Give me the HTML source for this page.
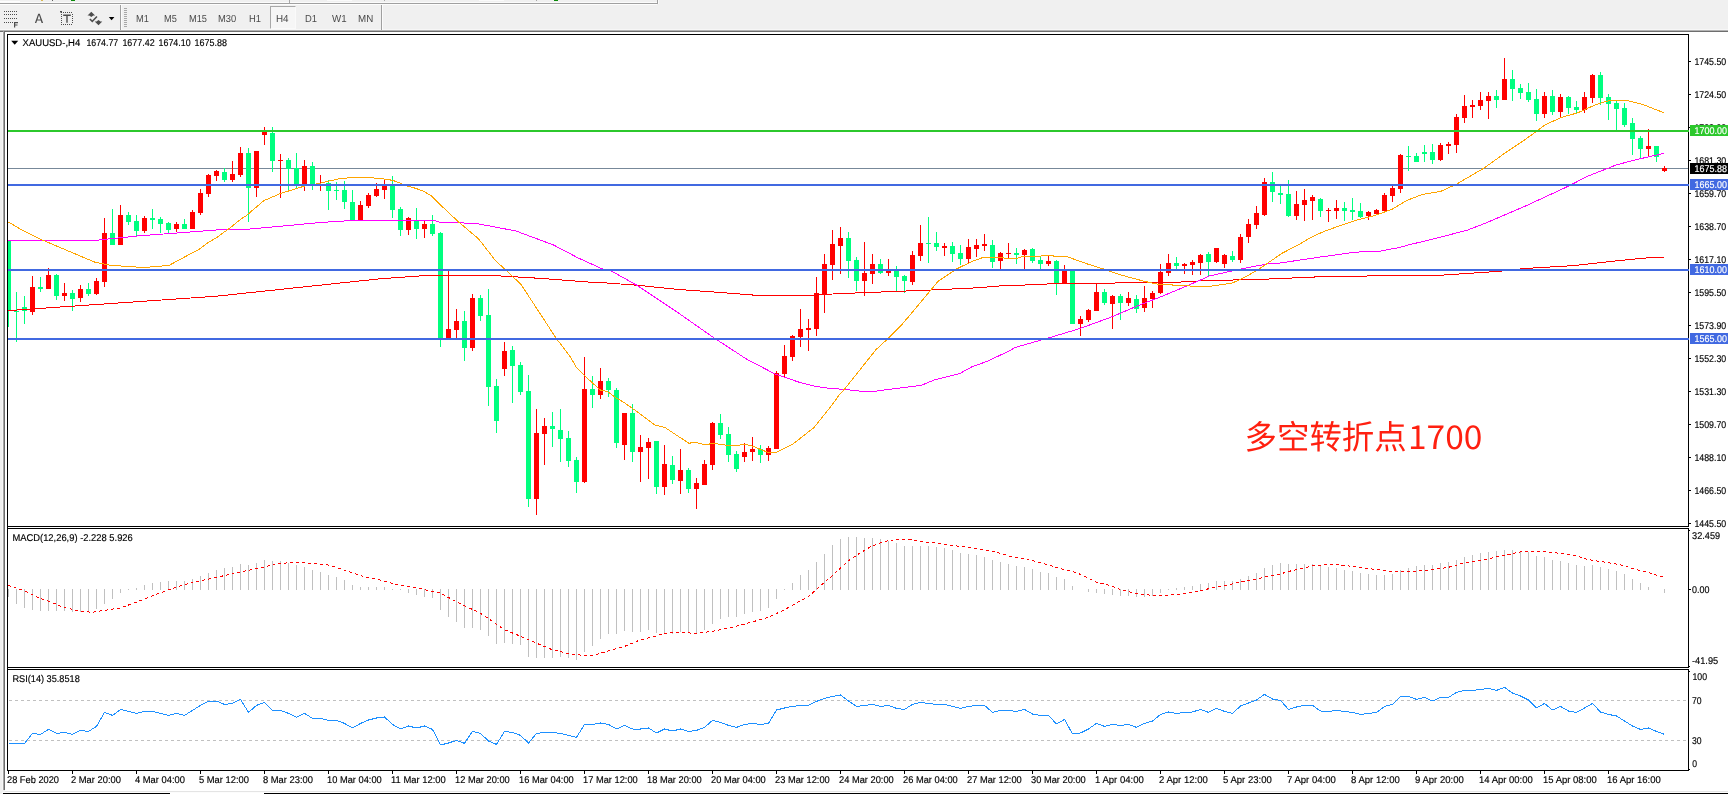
<!DOCTYPE html>
<html lang="zh"><head><meta charset="utf-8"><title>XAUUSD-,H4</title>
<style>
html,body{margin:0;padding:0}
body{width:1728px;height:794px;overflow:hidden;background:#f0f0f0;position:relative;font-family:"Liberation Sans", "Noto Sans CJK SC", sans-serif}
.abs,.tb svg,.chart{position:absolute}
.chart{left:0;top:0}
.tb{position:absolute;left:0;top:4px;width:1728px;height:26px;font-family:"Liberation Sans", "Noto Sans CJK SC", sans-serif}
.tb svg.lb{top:8.6px;overflow:visible;will-change:transform}
.sel{position:absolute;left:270px;top:2px;width:24px;height:21px;border:1px solid #a8a8a8;border-right-color:#fafafa;border-bottom-color:#fafafa;background:#f6f6f6}
.ico{position:absolute;left:0;top:0}
</style></head><body>
<div class="abs" style="left:0;top:1px;width:20px;height:1px;background:#fdfdfd"></div>
<div class="abs" style="left:0;top:2px;width:657px;height:1px;background:#fbfbfb"></div>
<div class="abs" style="left:0;top:3px;width:657px;height:1px;background:#a0a0a0"></div>
<div class="abs" style="left:0;top:4px;width:657px;height:1px;background:#fdfdfd"></div>
<div class="abs" style="left:657px;top:0;width:1px;height:4px;background:#a0a0a0"></div>
<div class="abs" style="left:658px;top:0;width:1px;height:4px;background:#fafafa"></div>
<div class="abs" style="left:289px;top:0;width:1px;height:3px;background:#a8a8a8"></div>
<div class="abs" style="left:327px;top:0;width:25px;height:1px;background:#fafafa"></div>
<div class="abs" style="left:479px;top:0;width:25px;height:1px;background:#fafafa"></div>
<div class="abs" style="left:384px;top:0;width:1px;height:1px;background:#a8a8a8"></div>
<div class="abs" style="left:536px;top:0;width:1px;height:1px;background:#a8a8a8"></div>
<div class="abs" style="left:71px;top:0;width:4px;height:1px;background:#0a8a0a"></div>
<div class="abs" style="left:554px;top:0;width:4px;height:1px;background:#0a8a0a"></div>
<div class="abs" style="left:41px;top:0;width:2px;height:1px;background:#d8b850"></div>
<div class="abs" style="left:52px;top:0;width:1px;height:1px;background:#606060"></div>
<div class="abs" style="left:0;top:29px;width:1728px;height:1px;background:#f7f7f7"></div>
<div class="abs" style="left:0;top:30px;width:1728px;height:1px;background:#b4b4b4"></div>
<div class="abs" style="left:0;top:31px;width:1728px;height:1px;background:#6e6e6e"></div>
<div class="abs" style="left:5px;top:32px;width:1723px;height:759px;background:#fff"></div>
<div class="abs" style="left:2px;top:32px;width:1px;height:759px;background:#f7f7f7"></div>
<div class="abs" style="left:3px;top:31px;width:1px;height:760px;background:#a6a6a6"></div>
<div class="abs" style="left:4px;top:31px;width:1px;height:759px;background:#6e6e6e"></div>
<div class="abs" style="left:0;top:790px;width:5px;height:1px;background:#f0f0f0"></div>
<div class="abs" style="left:5px;top:791px;width:1723px;height:1px;background:#e4e4e4"></div>
<div class="abs" style="left:2px;top:792px;width:1726px;height:1px;background:#fcfcfc"></div>
<div class="abs" style="left:3px;top:793px;width:167px;height:1px;background:#000"></div>
<div class="abs" style="left:170px;top:793px;width:94px;height:1px;background:#fff"></div>
<div class="abs" style="left:264px;top:793px;width:1464px;height:1px;background:#000"></div>
<div class="tb">
<div class="sel"></div>
<svg class="ico" width="400" height="26" viewBox="0 4 400 26">
<g fill="#4d4d4d">
<path d="M4 11h1v1h-1zM6 11h1v1h-1zM8 11h1v1h-1zM10 11h1v1h-1zM12 11h1v1h-1zM14 11h1v1h-1zM16 11h1v1h-1zM4 14h1v1h-1zM6 14h1v1h-1zM8 14h1v1h-1zM10 14h1v1h-1zM12 14h1v1h-1zM14 14h1v1h-1zM16 14h1v1h-1zM4 18h1v1h-1zM6 18h1v1h-1zM8 18h1v1h-1zM10 18h1v1h-1zM12 18h1v1h-1zM14 18h1v1h-1zM16 18h1v1h-1zM4 22h1v1h-1zM6 22h1v1h-1zM8 22h1v1h-1zM10 22h1v1h-1zM12 22h1v1h-1z"/>
<path d="M14 22h4v1.2h-2.8v1.3h2.3v1.1h-2.3v1.9h-1.2z"/>
<path d="M34.9 23l3.3-9.2h1.6l3.3 9.2h-1.5l-.8-2.4h-3.7l-.8 2.4zM37.5 19.4h3l-1.5-4.3z"/>
<path d="M61 12h1v1h-1zM63 12h1v1h-1zM65 12h1v1h-1zM67 12h1v1h-1zM69 12h1v1h-1zM71 12h1v1h-1zM61 14h1v1h-1zM61 16h1v1h-1zM61 18h1v1h-1zM61 20h1v1h-1zM61 22h1v1h-1zM61 24h1v1h-1zM63 24h1v1h-1zM65 24h1v1h-1zM67 24h1v1h-1zM69 24h1v1h-1zM71 24h1v1h-1zM72 14h1v1h-1zM72 16h1v1h-1zM72 18h1v1h-1zM72 20h1v1h-1zM72 22h1v1h-1zM60 11h2v1.4h-2z"/>
<path d="M63.2 14.6h7.6v1.4h-3.1v6.8h-1.4v-6.8h-3.1z"/>
<path d="M91.3 11.8l3.8 3.8h-1.8l-2 1.4-2-1.4h-1.8zM98.5 25.2l-3.8-3.8h1.8l2-1.4 2 1.4h1.8zM96.4 15.9l1.1 1-5.2 5.5-3-2.8 1-1.1 2 1.8z"/>
</g>
<path d="M108.8 17h5.6l-2.8 3.3z" fill="#000"/>
<rect x="120" y="5" width="1" height="25" fill="#a0a0a0"/><rect x="121" y="5" width="1" height="25" fill="#fbfbfb"/>
<path d="M124 8h3v1h-3zM124 10h3v1h-3zM124 12h3v1h-3zM124 14h3v1h-3zM124 16h3v1h-3zM124 18h3v1h-3zM124 20h3v1h-3zM124 22h3v1h-3zM124 24h3v1h-3zM124 26h3v1h-3z" fill="#a8a8a8"/>
<rect x="381" y="5" width="1" height="25" fill="#a0a0a0"/><rect x="382" y="5" width="1" height="25" fill="#fbfbfb"/>
</svg>
<svg class="lb" style="left:136px" width="13.8" height="12" viewBox="0 0 13.8 12"><text x="0" y="9.4" font-size="10.2" fill="#4a4a4a" text-rendering="geometricPrecision" textLength="12.8" lengthAdjust="spacingAndGlyphs">M1</text></svg>
<svg class="lb" style="left:163.8px" width="13.8" height="12" viewBox="0 0 13.8 12"><text x="0" y="9.4" font-size="10.2" fill="#4a4a4a" text-rendering="geometricPrecision" textLength="12.8" lengthAdjust="spacingAndGlyphs">M5</text></svg>
<svg class="lb" style="left:189.4px" width="19" height="12" viewBox="0 0 19 12"><text x="0" y="9.4" font-size="10.2" fill="#4a4a4a" text-rendering="geometricPrecision" textLength="18" lengthAdjust="spacingAndGlyphs">M15</text></svg>
<svg class="lb" style="left:217.5px" width="19.2" height="12" viewBox="0 0 19.2 12"><text x="0" y="9.4" font-size="10.2" fill="#4a4a4a" text-rendering="geometricPrecision" textLength="18.2" lengthAdjust="spacingAndGlyphs">M30</text></svg>
<svg class="lb" style="left:249px" width="13" height="12" viewBox="0 0 13 12"><text x="0" y="9.4" font-size="10.2" fill="#4a4a4a" text-rendering="geometricPrecision" textLength="12" lengthAdjust="spacingAndGlyphs">H1</text></svg>
<svg class="lb" style="left:275.8px" width="13.6" height="12" viewBox="0 0 13.6 12"><text x="0" y="9.4" font-size="10.2" fill="#4a4a4a" text-rendering="geometricPrecision" textLength="12.6" lengthAdjust="spacingAndGlyphs">H4</text></svg>
<svg class="lb" style="left:305px" width="13" height="12" viewBox="0 0 13 12"><text x="0" y="9.4" font-size="10.2" fill="#4a4a4a" text-rendering="geometricPrecision" textLength="12" lengthAdjust="spacingAndGlyphs">D1</text></svg>
<svg class="lb" style="left:332px" width="15.6" height="12" viewBox="0 0 15.6 12"><text x="0" y="9.4" font-size="10.2" fill="#4a4a4a" text-rendering="geometricPrecision" textLength="14.6" lengthAdjust="spacingAndGlyphs">W1</text></svg>
<svg class="lb" style="left:358.4px" width="16.2" height="12" viewBox="0 0 16.2 12"><text x="0" y="9.4" font-size="10.2" fill="#4a4a4a" text-rendering="geometricPrecision" textLength="15.2" lengthAdjust="spacingAndGlyphs">MN</text></svg>
</div>
<svg class="chart" width="1728" height="794" viewBox="0 0 1728 794" text-rendering="geometricPrecision" font-family='&quot;Liberation Sans&quot;, &quot;Noto Sans CJK SC&quot;, sans-serif'>
<defs><clipPath id="cm"><rect x="8" y="35" width="1680" height="491"/></clipPath><clipPath id="c2"><rect x="8" y="529" width="1680" height="138"/></clipPath><clipPath id="c3"><rect x="8" y="670" width="1680" height="100"/></clipPath></defs>
<g clip-path="url(#cm)" shape-rendering="crispEdges">
<rect x="8" y="168" width="1681" height="1" fill="#778899"/>
<path fill="#00ff7f" d="M8 241h1v86h-1zM6 241h5v69h-5z"/>
<path fill="#00ff7f" d="M16 292h1v50h-1zM14 311h5v1h-5z"/>
<path fill="#00ff7f" d="M24 296h1v28h-1zM22 307h5v4h-5z"/>
<path fill="#ff0000" d="M32 276h1v39h-1zM30 287h5v25h-5z"/>
<path fill="#00ff7f" d="M40 277h1v15h-1zM38 287h5v2h-5z"/>
<path fill="#ff0000" d="M48 268h1v21h-1zM46 275h5v14h-5z"/>
<path fill="#00ff7f" d="M56 274h1v26h-1zM54 275h5v21h-5z"/>
<path fill="#ff0000" d="M64 283h1v18h-1zM62 293h5v3h-5z"/>
<path fill="#00ff7f" d="M72 290h1v21h-1zM70 293h5v6h-5z"/>
<path fill="#ff0000" d="M80 285h1v17h-1zM78 289h5v9h-5z"/>
<path fill="#00ff7f" d="M88 283h1v13h-1zM86 289h5v5h-5z"/>
<path fill="#ff0000" d="M96 278h1v17h-1zM94 281h5v13h-5z"/>
<path fill="#ff0000" d="M104 218h1v69h-1zM102 233h5v49h-5z"/>
<path fill="#00ff7f" d="M112 209h1v36h-1zM110 233h5v12h-5z"/>
<path fill="#ff0000" d="M120 205h1v40h-1zM118 215h5v30h-5z"/>
<path fill="#00ff7f" d="M128 212h1v13h-1zM126 215h5v7h-5z"/>
<path fill="#00ff7f" d="M136 215h1v21h-1zM134 221h5v10h-5z"/>
<path fill="#ff0000" d="M144 216h1v17h-1zM142 218h5v13h-5z"/>
<path fill="#00ff7f" d="M152 209h1v20h-1zM150 218h5v2h-5z"/>
<path fill="#00ff7f" d="M160 217h1v16h-1zM158 219h5v5h-5z"/>
<path fill="#00ff7f" d="M168 222h1v11h-1zM166 223h5v7h-5z"/>
<path fill="#ff0000" d="M176 222h1v10h-1zM174 224h5v5h-5z"/>
<path fill="#00ff7f" d="M184 219h1v10h-1zM182 224h5v5h-5z"/>
<path fill="#ff0000" d="M192 210h1v19h-1zM190 212h5v17h-5z"/>
<path fill="#ff0000" d="M200 189h1v26h-1zM198 193h5v20h-5z"/>
<path fill="#ff0000" d="M208 174h1v23h-1zM206 175h5v19h-5z"/>
<path fill="#ff0000" d="M216 170h1v11h-1zM214 171h5v5h-5z"/>
<path fill="#00ff7f" d="M224 168h1v14h-1zM222 172h5v8h-5z"/>
<path fill="#ff0000" d="M232 161h1v21h-1zM230 174h5v6h-5z"/>
<path fill="#ff0000" d="M240 147h1v30h-1zM238 153h5v22h-5z"/>
<path fill="#00ff7f" d="M248 148h1v74h-1zM246 153h5v35h-5z"/>
<path fill="#ff0000" d="M256 151h1v46h-1zM254 151h5v37h-5z"/>
<path fill="#ff0000" d="M264 127h1v18h-1zM262 132h5v3h-5z"/>
<path fill="#00ff7f" d="M272 127h1v45h-1zM270 133h5v28h-5z"/>
<path fill="#ff0000" d="M280 154h1v44h-1zM278 160h5v1h-5z"/>
<path fill="#00ff7f" d="M288 158h1v33h-1zM286 160h5v9h-5z"/>
<path fill="#00ff7f" d="M296 153h1v36h-1zM294 168h5v17h-5z"/>
<path fill="#ff0000" d="M304 160h1v31h-1zM302 166h5v19h-5z"/>
<path fill="#00ff7f" d="M312 162h1v28h-1zM310 166h5v19h-5z"/>
<path fill="#ff0000" d="M320 175h1v16h-1zM318 184h5v1h-5z"/>
<path fill="#00ff7f" d="M328 180h1v30h-1zM326 183h5v8h-5z"/>
<path fill="#00ff7f" d="M336 182h1v18h-1zM334 190h5v1h-5z"/>
<path fill="#00ff7f" d="M344 181h1v28h-1zM342 190h5v12h-5z"/>
<path fill="#00ff7f" d="M352 190h1v31h-1zM350 202h5v19h-5z"/>
<path fill="#ff0000" d="M360 201h1v20h-1zM358 205h5v16h-5z"/>
<path fill="#ff0000" d="M368 193h1v15h-1zM366 195h5v11h-5z"/>
<path fill="#ff0000" d="M376 183h1v14h-1zM374 189h5v7h-5z"/>
<path fill="#ff0000" d="M384 180h1v19h-1zM382 185h5v5h-5z"/>
<path fill="#00ff7f" d="M392 176h1v42h-1zM390 185h5v25h-5z"/>
<path fill="#00ff7f" d="M400 207h1v29h-1zM398 209h5v21h-5z"/>
<path fill="#ff0000" d="M408 217h1v18h-1zM406 218h5v12h-5z"/>
<path fill="#00ff7f" d="M416 208h1v31h-1zM414 220h5v9h-5z"/>
<path fill="#ff0000" d="M424 220h1v18h-1zM422 224h5v5h-5z"/>
<path fill="#00ff7f" d="M432 215h1v21h-1zM430 224h5v10h-5z"/>
<path fill="#00ff7f" d="M440 232h1v115h-1zM438 233h5v105h-5z"/>
<path fill="#ff0000" d="M448 271h1v67h-1zM446 329h5v9h-5z"/>
<path fill="#ff0000" d="M456 309h1v29h-1zM454 321h5v9h-5z"/>
<path fill="#00ff7f" d="M464 311h1v50h-1zM462 321h5v27h-5z"/>
<path fill="#ff0000" d="M472 294h1v57h-1zM470 298h5v50h-5z"/>
<path fill="#00ff7f" d="M480 295h1v26h-1zM478 298h5v18h-5z"/>
<path fill="#00ff7f" d="M488 289h1v117h-1zM486 315h5v72h-5z"/>
<path fill="#00ff7f" d="M496 379h1v54h-1zM494 386h5v35h-5z"/>
<path fill="#ff0000" d="M504 342h1v34h-1zM502 351h5v18h-5z"/>
<path fill="#00ff7f" d="M512 346h1v57h-1zM510 350h5v16h-5z"/>
<path fill="#00ff7f" d="M520 362h1v33h-1zM518 365h5v27h-5z"/>
<path fill="#00ff7f" d="M528 375h1v132h-1zM526 391h5v108h-5z"/>
<path fill="#ff0000" d="M536 409h1v106h-1zM534 433h5v66h-5z"/>
<path fill="#ff0000" d="M544 418h1v47h-1zM542 426h5v8h-5z"/>
<path fill="#00ff7f" d="M552 412h1v35h-1zM550 426h5v3h-5z"/>
<path fill="#00ff7f" d="M560 409h1v53h-1zM558 430h5v9h-5z"/>
<path fill="#00ff7f" d="M568 431h1v36h-1zM566 438h5v23h-5z"/>
<path fill="#00ff7f" d="M576 457h1v36h-1zM574 460h5v22h-5z"/>
<path fill="#ff0000" d="M584 357h1v126h-1zM582 389h5v93h-5z"/>
<path fill="#00ff7f" d="M592 376h1v32h-1zM590 389h5v6h-5z"/>
<path fill="#ff0000" d="M600 368h1v31h-1zM598 381h5v14h-5z"/>
<path fill="#00ff7f" d="M608 378h1v19h-1zM606 381h5v9h-5z"/>
<path fill="#00ff7f" d="M616 388h1v60h-1zM614 390h5v53h-5z"/>
<path fill="#ff0000" d="M624 413h1v47h-1zM622 413h5v32h-5z"/>
<path fill="#00ff7f" d="M632 404h1v58h-1zM630 413h5v39h-5z"/>
<path fill="#ff0000" d="M640 435h1v47h-1zM638 447h5v5h-5z"/>
<path fill="#ff0000" d="M648 438h1v41h-1zM646 442h5v6h-5z"/>
<path fill="#00ff7f" d="M656 441h1v53h-1zM654 441h5v46h-5z"/>
<path fill="#ff0000" d="M664 445h1v50h-1zM662 464h5v23h-5z"/>
<path fill="#00ff7f" d="M672 456h1v28h-1zM670 465h5v15h-5z"/>
<path fill="#ff0000" d="M680 449h1v45h-1zM678 470h5v11h-5z"/>
<path fill="#00ff7f" d="M688 468h1v25h-1zM686 470h5v19h-5z"/>
<path fill="#ff0000" d="M696 478h1v31h-1zM694 483h5v6h-5z"/>
<path fill="#ff0000" d="M704 460h1v25h-1zM702 464h5v21h-5z"/>
<path fill="#ff0000" d="M712 422h1v48h-1zM710 423h5v42h-5z"/>
<path fill="#00ff7f" d="M720 414h1v25h-1zM718 423h5v12h-5z"/>
<path fill="#00ff7f" d="M728 427h1v35h-1zM726 434h5v21h-5z"/>
<path fill="#00ff7f" d="M736 451h1v21h-1zM734 454h5v15h-5z"/>
<path fill="#ff0000" d="M744 443h1v19h-1zM742 452h5v5h-5z"/>
<path fill="#ff0000" d="M752 437h1v24h-1zM750 449h5v3h-5z"/>
<path fill="#00ff7f" d="M760 445h1v18h-1zM758 449h5v6h-5z"/>
<path fill="#ff0000" d="M768 446h1v15h-1zM766 448h5v7h-5z"/>
<path fill="#ff0000" d="M776 371h1v78h-1zM774 373h5v76h-5z"/>
<path fill="#ff0000" d="M784 345h1v32h-1zM782 356h5v18h-5z"/>
<path fill="#ff0000" d="M792 335h1v26h-1zM790 336h5v21h-5z"/>
<path fill="#ff0000" d="M800 309h1v38h-1zM798 329h5v8h-5z"/>
<path fill="#ff0000" d="M808 319h1v32h-1zM806 328h5v2h-5z"/>
<path fill="#ff0000" d="M816 277h1v59h-1zM814 293h5v36h-5z"/>
<path fill="#ff0000" d="M824 254h1v59h-1zM822 264h5v30h-5z"/>
<path fill="#ff0000" d="M832 230h1v50h-1zM830 244h5v21h-5z"/>
<path fill="#ff0000" d="M840 227h1v47h-1zM838 238h5v8h-5z"/>
<path fill="#00ff7f" d="M848 232h1v46h-1zM846 238h5v23h-5z"/>
<path fill="#00ff7f" d="M856 257h1v34h-1zM854 260h5v21h-5z"/>
<path fill="#ff0000" d="M864 242h1v54h-1zM862 273h5v8h-5z"/>
<path fill="#ff0000" d="M872 254h1v30h-1zM870 264h5v10h-5z"/>
<path fill="#00ff7f" d="M880 259h1v15h-1zM878 264h5v9h-5z"/>
<path fill="#ff0000" d="M888 259h1v17h-1zM886 271h5v2h-5z"/>
<path fill="#00ff7f" d="M896 266h1v25h-1zM894 270h5v7h-5z"/>
<path fill="#00ff7f" d="M904 275h1v18h-1zM902 276h5v5h-5z"/>
<path fill="#ff0000" d="M912 251h1v34h-1zM910 255h5v27h-5z"/>
<path fill="#ff0000" d="M920 225h1v36h-1zM918 243h5v13h-5z"/>
<path fill="#00ff7f" d="M928 217h1v46h-1zM926 243h5v1h-5z"/>
<path fill="#00ff7f" d="M936 232h1v19h-1zM934 243h5v4h-5z"/>
<path fill="#ff0000" d="M944 243h1v13h-1zM942 246h5v2h-5z"/>
<path fill="#00ff7f" d="M952 242h1v20h-1zM950 246h5v8h-5z"/>
<path fill="#00ff7f" d="M960 245h1v20h-1zM958 253h5v6h-5z"/>
<path fill="#ff0000" d="M968 239h1v24h-1zM966 247h5v12h-5z"/>
<path fill="#ff0000" d="M976 239h1v18h-1zM974 245h5v4h-5z"/>
<path fill="#ff0000" d="M984 234h1v17h-1zM982 244h5v2h-5z"/>
<path fill="#00ff7f" d="M992 240h1v28h-1zM990 245h5v17h-5z"/>
<path fill="#ff0000" d="M1000 252h1v17h-1zM998 253h5v8h-5z"/>
<path fill="#ff0000" d="M1008 243h1v15h-1zM1006 253h5v1h-5z"/>
<path fill="#00ff7f" d="M1016 248h1v16h-1zM1014 253h5v2h-5z"/>
<path fill="#ff0000" d="M1024 249h1v20h-1zM1022 250h5v5h-5z"/>
<path fill="#00ff7f" d="M1032 248h1v15h-1zM1030 249h5v12h-5z"/>
<path fill="#00ff7f" d="M1040 257h1v12h-1zM1038 260h5v4h-5z"/>
<path fill="#ff0000" d="M1048 256h1v10h-1zM1046 261h5v3h-5z"/>
<path fill="#00ff7f" d="M1056 260h1v35h-1zM1054 261h5v22h-5z"/>
<path fill="#ff0000" d="M1064 265h1v18h-1zM1062 270h5v13h-5z"/>
<path fill="#00ff7f" d="M1072 270h1v54h-1zM1070 270h5v54h-5z"/>
<path fill="#ff0000" d="M1080 316h1v20h-1zM1078 319h5v5h-5z"/>
<path fill="#ff0000" d="M1088 309h1v13h-1zM1086 310h5v10h-5z"/>
<path fill="#ff0000" d="M1096 284h1v27h-1zM1094 292h5v19h-5z"/>
<path fill="#00ff7f" d="M1104 289h1v16h-1zM1102 292h5v11h-5z"/>
<path fill="#ff0000" d="M1112 295h1v34h-1zM1110 296h5v8h-5z"/>
<path fill="#00ff7f" d="M1120 294h1v26h-1zM1118 296h5v7h-5z"/>
<path fill="#ff0000" d="M1128 292h1v14h-1zM1126 298h5v5h-5z"/>
<path fill="#00ff7f" d="M1136 295h1v18h-1zM1134 299h5v10h-5z"/>
<path fill="#ff0000" d="M1144 286h1v26h-1zM1142 298h5v10h-5z"/>
<path fill="#ff0000" d="M1152 291h1v17h-1zM1150 293h5v6h-5z"/>
<path fill="#ff0000" d="M1160 264h1v30h-1zM1158 272h5v21h-5z"/>
<path fill="#ff0000" d="M1168 254h1v22h-1zM1166 263h5v10h-5z"/>
<path fill="#00ff7f" d="M1176 257h1v12h-1zM1174 263h5v3h-5z"/>
<path fill="#ff0000" d="M1184 263h1v11h-1zM1182 264h5v2h-5z"/>
<path fill="#ff0000" d="M1192 260h1v15h-1zM1190 262h5v3h-5z"/>
<path fill="#ff0000" d="M1200 254h1v21h-1zM1198 255h5v8h-5z"/>
<path fill="#00ff7f" d="M1208 252h1v24h-1zM1206 254h5v8h-5z"/>
<path fill="#ff0000" d="M1216 248h1v15h-1zM1214 248h5v14h-5z"/>
<path fill="#ff0000" d="M1224 254h1v14h-1zM1222 255h5v9h-5z"/>
<path fill="#00ff7f" d="M1232 251h1v11h-1zM1230 256h5v4h-5z"/>
<path fill="#ff0000" d="M1240 234h1v29h-1zM1238 237h5v23h-5z"/>
<path fill="#ff0000" d="M1248 219h1v24h-1zM1246 224h5v13h-5z"/>
<path fill="#ff0000" d="M1256 206h1v23h-1zM1254 213h5v12h-5z"/>
<path fill="#ff0000" d="M1264 178h1v38h-1zM1262 182h5v33h-5z"/>
<path fill="#00ff7f" d="M1272 172h1v30h-1zM1270 182h5v10h-5z"/>
<path fill="#00ff7f" d="M1280 186h1v18h-1zM1278 193h5v2h-5z"/>
<path fill="#00ff7f" d="M1288 180h1v37h-1zM1286 194h5v22h-5z"/>
<path fill="#ff0000" d="M1296 191h1v29h-1zM1294 204h5v12h-5z"/>
<path fill="#ff0000" d="M1304 189h1v32h-1zM1302 200h5v5h-5z"/>
<path fill="#ff0000" d="M1312 195h1v25h-1zM1310 197h5v4h-5z"/>
<path fill="#00ff7f" d="M1320 198h1v19h-1zM1318 199h5v12h-5z"/>
<path fill="#ff0000" d="M1328 208h1v14h-1zM1326 210h5v1h-5z"/>
<path fill="#ff0000" d="M1336 200h1v19h-1zM1334 208h5v3h-5z"/>
<path fill="#00ff7f" d="M1344 202h1v19h-1zM1342 208h5v3h-5z"/>
<path fill="#00ff7f" d="M1352 198h1v22h-1zM1350 210h5v2h-5z"/>
<path fill="#00ff7f" d="M1360 203h1v15h-1zM1358 211h5v6h-5z"/>
<path fill="#ff0000" d="M1368 211h1v9h-1zM1366 212h5v4h-5z"/>
<path fill="#ff0000" d="M1376 209h1v6h-1zM1374 210h5v4h-5z"/>
<path fill="#ff0000" d="M1384 193h1v19h-1zM1382 195h5v16h-5z"/>
<path fill="#ff0000" d="M1392 186h1v16h-1zM1390 188h5v8h-5z"/>
<path fill="#ff0000" d="M1400 154h1v39h-1zM1398 155h5v34h-5z"/>
<path fill="#00ff7f" d="M1408 146h1v25h-1zM1406 156h5v1h-5z"/>
<path fill="#00ff7f" d="M1416 153h1v9h-1zM1414 156h5v6h-5z"/>
<path fill="#00ff7f" d="M1424 145h1v17h-1zM1422 152h5v2h-5z"/>
<path fill="#00ff7f" d="M1432 144h1v20h-1zM1430 152h5v8h-5z"/>
<path fill="#ff0000" d="M1440 143h1v18h-1zM1438 145h5v15h-5z"/>
<path fill="#ff0000" d="M1448 142h1v12h-1zM1446 144h5v2h-5z"/>
<path fill="#ff0000" d="M1456 114h1v39h-1zM1454 117h5v28h-5z"/>
<path fill="#ff0000" d="M1464 95h1v28h-1zM1462 106h5v12h-5z"/>
<path fill="#ff0000" d="M1472 100h1v18h-1zM1470 105h5v2h-5z"/>
<path fill="#ff0000" d="M1480 92h1v18h-1zM1478 100h5v6h-5z"/>
<path fill="#ff0000" d="M1488 92h1v27h-1zM1486 96h5v5h-5z"/>
<path fill="#00ff7f" d="M1496 90h1v18h-1zM1494 96h5v4h-5z"/>
<path fill="#ff0000" d="M1504 58h1v42h-1zM1502 79h5v21h-5z"/>
<path fill="#00ff7f" d="M1512 70h1v31h-1zM1510 79h5v10h-5z"/>
<path fill="#00ff7f" d="M1520 84h1v15h-1zM1518 88h5v5h-5z"/>
<path fill="#00ff7f" d="M1528 83h1v19h-1zM1526 92h5v8h-5z"/>
<path fill="#00ff7f" d="M1536 89h1v32h-1zM1534 99h5v15h-5z"/>
<path fill="#ff0000" d="M1544 92h1v26h-1zM1542 96h5v18h-5z"/>
<path fill="#00ff7f" d="M1552 90h1v25h-1zM1550 96h5v16h-5z"/>
<path fill="#ff0000" d="M1560 94h1v24h-1zM1558 97h5v15h-5z"/>
<path fill="#00ff7f" d="M1568 96h1v18h-1zM1566 97h5v11h-5z"/>
<path fill="#00ff7f" d="M1576 101h1v12h-1zM1574 107h5v3h-5z"/>
<path fill="#ff0000" d="M1584 92h1v21h-1zM1582 97h5v13h-5z"/>
<path fill="#ff0000" d="M1592 74h1v29h-1zM1590 75h5v23h-5z"/>
<path fill="#00ff7f" d="M1600 72h1v33h-1zM1598 75h5v23h-5z"/>
<path fill="#00ff7f" d="M1608 94h1v26h-1zM1606 97h5v7h-5z"/>
<path fill="#00ff7f" d="M1616 101h1v29h-1zM1614 103h5v6h-5z"/>
<path fill="#00ff7f" d="M1624 103h1v24h-1zM1622 108h5v17h-5z"/>
<path fill="#00ff7f" d="M1632 118h1v37h-1zM1630 123h5v16h-5z"/>
<path fill="#00ff7f" d="M1640 136h1v22h-1zM1638 138h5v11h-5z"/>
<path fill="#ff0000" d="M1648 129h1v28h-1zM1646 146h5v3h-5z"/>
<path fill="#00ff7f" d="M1656 146h1v16h-1zM1654 146h5v11h-5z"/>
<path fill="#ff0000" d="M1664 166h1v6h-1zM1662 168h5v3h-5z"/>
</g>
<g clip-path="url(#cm)" fill="none" stroke-width="1" stroke-linejoin="round" shape-rendering="crispEdges">
<polyline stroke="#ff0000" points="8,310.6 216,296.25 380.5,278.75 416,276.25 424,275.6 491,275.4 541,278.4 591,282.25 600,282.5 637.5,285.25 677.5,289.4 717.5,292.25 757.5,295.4 813.5,295.4 836,293.75 883.5,291.9 931,290 984,287.5 992,286.25 1011.5,285.6 1052.75,283.75 1124,282.9 1179,282.1 1200,280.9 1267,279.1 1317,276.9 1373,275.9 1408,275.6 1443,275.1 1499,271.3 1525,268.5 1573.6,265.6 1620.5,260.4 1653.5,257.25 1664,257.25"/>
<polyline stroke="#ff00ff" points="8,240.25 93,240.6 137.5,236 208,230.6 216,230 245.5,229.4 283,226 320.5,222.5 345.5,220.9 383,220.25 424,220.25 434.75,220.4 439.75,222.25 476,223.4 516,231 553.5,245 578.5,258.1 602,268.75 610.6,270.6 637.5,285.6 675,310.6 712.5,336.9 746,358.75 765,368.75 776,374.4 800,382.5 815,386.25 830,388.4 845,389.4 861,391.25 875,391.25 891,389.1 907.5,387.1 921,385.4 935,379.75 960,373.4 972.5,366.5 987.5,361.25 1011,350 1015,347.5 1050,337.5 1080,328.5 1112.75,316.5 1136.5,306.25 1161.5,296.5 1184,287.1 1200,280.25 1209.5,275.9 1242,268.75 1267,264 1279.5,263.1 1317,257.5 1348,253.1 1367,251.25 1379.5,251.25 1400,247.4 1408,245 1434.7,238.7 1467.7,230 1484,223.75 1525,206.25 1569,185.9 1587.5,176.25 1609,167.9 1616,165 1634,160.2 1664,153.3"/>
<polyline stroke="#ffa500" points="8,221.9 22,230 40,239 95,262.25 111,265.4 144,267.5 169,265.4 200,248.75 208,242.5 216,238.1 230.5,227.5 241,219 245.5,216.25 264,200.6 280.5,193.5 304,186.25 320.5,183.1 340.5,178.4 360.5,177.25 380.5,178.4 393,180.4 408,186.25 416,188.4 424,191.5 431,195.6 436.6,201.25 458.5,221.9 478.5,238.75 496,261.25 504.75,269 521,284.4 541,315 556,338.1 570.4,356.9 576,366.9 584.75,375.9 601,390.6 607,391.25 616,397.9 624,402.5 636.5,411.25 655,425 665,427.5 689,443.4 694,442.1 705,444.6 714,443.4 728,445.4 739,445.4 744,444 753,446.25 768,452.5 776,452.5 793,444 814,427.5 829,408.75 840,394 845.4,388.1 876,349.6 888.5,338.1 901,325.6 914.75,309.4 930.4,290.6 938.5,280.9 957,268.75 971,261.9 983.5,257.25 992,257.25 1002.75,257.5 1006.5,258.75 1016.5,258.4 1024,256.25 1040,256.25 1045,255 1052,255 1054,256.25 1066.5,256.5 1087.75,264.1 1102.75,268.75 1120,274.75 1145,281.5 1159,284.4 1171.5,284.6 1174,285.6 1189,285.6 1192,286.6 1210.75,286.25 1232,283.1 1244.5,277.5 1259.5,268.75 1282,253.3 1298,245 1312,236.9 1324.5,231.25 1342,225 1358,219.75 1373,216 1392,209.4 1400,204.4 1408,200 1422.5,194.4 1441,191.25 1456,184.4 1484,168.1 1504,153.75 1520,143.1 1535,132.5 1545,125 1561,117.5 1577.5,112.9 1595,105 1606,101.25 1614,100.2 1626.4,100.2 1643.9,104.9 1663.8,112.7"/>
</g>
<g clip-path="url(#c2)">
<path shape-rendering="crispEdges" fill="#c0c0c0" d="M8 589h1v8h-1zM16 589h1v15h-1zM24 589h1v19h-1zM32 589h1v21h-1zM40 589h1v22h-1zM48 589h1v22h-1zM56 589h1v22h-1zM64 589h1v22h-1zM72 589h1v23h-1zM80 589h1v23h-1zM88 589h1v22h-1zM96 589h1v20h-1zM104 589h1v15h-1zM112 589h1v10h-1zM120 589h1v4h-1zM128 589h1v1h-1zM136 588h1v2h-1zM144 585h1v5h-1zM152 583h1v7h-1zM160 582h1v8h-1zM168 581h1v9h-1zM176 581h1v9h-1zM184 581h1v9h-1zM192 579h1v11h-1zM200 576h1v14h-1zM208 573h1v17h-1zM216 570h1v20h-1zM224 568h1v22h-1zM232 567h1v23h-1zM240 564h1v26h-1zM248 565h1v25h-1zM256 563h1v27h-1zM264 560h1v30h-1zM272 561h1v29h-1zM280 561h1v29h-1zM288 563h1v27h-1zM296 565h1v25h-1zM304 567h1v23h-1zM312 570h1v20h-1zM320 572h1v18h-1zM328 575h1v15h-1zM336 577h1v13h-1zM344 580h1v10h-1zM352 585h1v5h-1zM360 587h1v3h-1zM368 587h1v3h-1zM376 587h1v3h-1zM384 587h1v3h-1zM392 589h1v1h-1zM400 589h1v1h-1zM408 589h1v4h-1zM416 589h1v6h-1zM424 589h1v8h-1zM432 589h1v9h-1zM440 589h1v21h-1zM448 589h1v28h-1zM456 589h1v33h-1zM464 589h1v39h-1zM472 589h1v39h-1zM480 589h1v41h-1zM488 589h1v47h-1zM496 589h1v55h-1zM504 589h1v54h-1zM512 589h1v55h-1zM520 589h1v56h-1zM528 589h1v68h-1zM536 589h1v69h-1zM544 589h1v69h-1zM552 589h1v69h-1zM560 589h1v68h-1zM568 589h1v69h-1zM576 589h1v71h-1zM584 589h1v63h-1zM592 589h1v57h-1zM600 589h1v50h-1zM608 589h1v45h-1zM616 589h1v45h-1zM624 589h1v42h-1zM632 589h1v43h-1zM640 589h1v43h-1zM648 589h1v41h-1zM656 589h1v44h-1zM664 589h1v45h-1zM672 589h1v45h-1zM680 589h1v43h-1zM688 589h1v43h-1zM696 589h1v44h-1zM704 589h1v41h-1zM712 589h1v35h-1zM720 589h1v30h-1zM728 589h1v28h-1zM736 589h1v28h-1zM744 589h1v25h-1zM752 589h1v23h-1zM760 589h1v22h-1zM768 589h1v19h-1zM776 589h1v10h-1zM784 589h1v1h-1zM792 583h1v7h-1zM800 575h1v15h-1zM808 570h1v20h-1zM816 562h1v28h-1zM824 554h1v36h-1zM832 545h1v45h-1zM840 539h1v51h-1zM848 537h1v53h-1zM856 537h1v53h-1zM864 538h1v52h-1zM872 538h1v52h-1zM880 539h1v51h-1zM888 541h1v49h-1zM896 543h1v47h-1zM904 546h1v44h-1zM912 546h1v44h-1zM920 546h1v44h-1zM928 546h1v44h-1zM936 547h1v43h-1zM944 548h1v42h-1zM952 550h1v40h-1zM960 553h1v37h-1zM968 554h1v36h-1zM976 555h1v35h-1zM984 557h1v33h-1zM992 560h1v30h-1zM1000 562h1v28h-1zM1008 564h1v26h-1zM1016 566h1v24h-1zM1024 567h1v23h-1zM1032 569h1v21h-1zM1040 572h1v18h-1zM1048 573h1v17h-1zM1056 577h1v13h-1zM1064 579h1v11h-1zM1072 586h1v4h-1zM1088 589h1v3h-1zM1096 589h1v4h-1zM1104 589h1v5h-1zM1112 589h1v6h-1zM1120 589h1v7h-1zM1128 589h1v7h-1zM1136 589h1v8h-1zM1144 589h1v8h-1zM1152 589h1v7h-1zM1160 589h1v4h-1zM1168 589h1v1h-1zM1176 588h1v2h-1zM1184 587h1v3h-1zM1192 586h1v4h-1zM1200 584h1v6h-1zM1208 583h1v7h-1zM1216 581h1v9h-1zM1224 581h1v9h-1zM1232 581h1v9h-1zM1240 579h1v11h-1zM1248 576h1v14h-1zM1256 573h1v17h-1zM1264 568h1v22h-1zM1272 565h1v25h-1zM1280 563h1v27h-1zM1288 564h1v26h-1zM1296 564h1v26h-1zM1304 564h1v26h-1zM1312 564h1v26h-1zM1320 566h1v24h-1zM1328 567h1v23h-1zM1336 568h1v22h-1zM1344 570h1v20h-1zM1352 571h1v19h-1zM1360 573h1v17h-1zM1368 574h1v16h-1zM1376 575h1v15h-1zM1384 575h1v15h-1zM1392 574h1v16h-1zM1400 570h1v20h-1zM1408 568h1v22h-1zM1416 566h1v24h-1zM1424 565h1v25h-1zM1432 565h1v25h-1zM1440 563h1v27h-1zM1448 562h1v28h-1zM1456 560h1v30h-1zM1464 557h1v33h-1zM1472 555h1v35h-1zM1480 553h1v37h-1zM1488 552h1v38h-1zM1496 551h1v39h-1zM1504 550h1v40h-1zM1512 550h1v40h-1zM1520 551h1v39h-1zM1528 552h1v38h-1zM1536 556h1v34h-1zM1544 557h1v33h-1zM1552 560h1v30h-1zM1560 561h1v29h-1zM1568 563h1v27h-1zM1576 565h1v25h-1zM1584 566h1v24h-1zM1592 565h1v25h-1zM1600 567h1v23h-1zM1608 569h1v21h-1zM1616 571h1v19h-1zM1624 574h1v16h-1zM1632 579h1v11h-1zM1640 583h1v7h-1zM1648 587h1v3h-1zM1664 589h1v4h-1z"/>
<polyline stroke="#ff0000" fill="none" stroke-width="1" stroke-dasharray="3 3" shape-rendering="crispEdges" points="8,585.4 24,590.4 40,598.4 52,602.4 64,607.6 80,611 92,612.4 104,610.4 120,608 136,602.4 152,596 168,590 184,584.6 200,581 216,577.4 232,574 248,570.4 264,567 280,563.4 296,562.4 312,563.4 328,565 340,568.6 364,576.6 380,580 400,585.4 420,588.6 440,593 460,603.6 480,613 492,621 504,629.6 520,636 536,643 552,649.6 568,653.4 584,655.6 592,656 608,651 624,646.6 640,640 656,636 664,633.4 680,632.4 696,633.4 712,631.4 732,627.4 752,622 768,617.4 784,610 800,601 808,597 820,586 832,576 848,561 860,553 872,546 884,541.6 896,539.4 908,539.4 920,541.4 940,543.6 960,546.4 980,549 996,552 1012,557 1022,558.4 1040,562.4 1060,568.6 1076,572.4 1088,578 1096,582 1112,586 1120,589.6 1136,593.4 1152,595.4 1168,595.4 1180,594 1196,591.6 1212,588 1228,585 1240,582 1256,579.6 1268,576 1280,574 1292,570.6 1304,568 1312,566 1328,564.4 1336,564.4 1352,566.4 1360,567.4 1376,569.6 1392,571.4 1416,571.4 1432,569.6 1448,567.4 1464,563 1484,559.6 1504,555.4 1520,552 1544,551.6 1560,553.4 1572,554.6 1588,559.6 1604,562 1620,564.6 1636,569.6 1648,572.4 1660,576.2 1664.5,577.4"/>
</g>
<g clip-path="url(#c3)">
<path stroke="#c0c0c0" stroke-width="1" stroke-dasharray="3 3" shape-rendering="crispEdges" d="M9 700.5H1688M9 740.5H1688"/>
<polyline stroke="#1e90ff" fill="none" stroke-width="1" stroke-linejoin="round" shape-rendering="crispEdges" points="8.5,743.4 16.5,743.4 24.5,743.4 32.5,733.4 40.5,734.4 48.5,729.4 56.5,733.4 64.5,732.4 72.5,734.4 80.5,730.4 88.5,731.4 96.5,726.4 104.5,712.4 112.5,715.4 120.5,709.4 128.5,711.4 136.5,713.4 144.5,711.4 152.5,711.4 160.5,713.4 168.5,715.4 176.5,713.4 184.5,715.4 192.5,710.4 200.5,705.4 208.5,701 216.5,701 224.5,704.4 232.5,703.4 240.5,699.4 248.5,712.4 256.5,705.4 264.5,702.4 272.5,710.4 280.5,710.4 288.5,713.4 296.5,717.4 304.5,713.4 312.5,718.4 320.5,718.4 328.5,720.4 336.5,720.4 344.5,723.4 352.5,728 360.5,723.4 368.5,720 376.5,718 384.5,717 392.5,724.4 400.5,729 408.5,726 416.5,728 424.5,726 432.5,729.4 440.5,745 448.5,743 456.5,740.4 464.5,743.4 472.5,731.4 480.5,733.4 488.5,741 496.5,744.4 504.5,731.4 512.5,732.4 520.5,735.4 528.5,743 536.5,733.4 544.5,732.4 552.5,732.4 560.5,733.4 568.5,735.4 576.5,737.4 584.5,724.4 592.5,724.4 600.5,723 608.5,724.4 616.5,729 624.5,725.4 632.5,729 640.5,729 648.5,728 656.5,733 664.5,729 672.5,731 680.5,729 688.5,731.4 696.5,730.4 704.5,727.4 712.5,720.4 720.5,722.4 728.5,725.4 736.5,727.4 744.5,724.4 752.5,723.4 760.5,724.4 768.5,723.4 776.5,710 784.5,708 792.5,706.4 800.5,705.4 808.5,705.4 816.5,701.4 824.5,698.4 832.5,696.4 840.5,695 848.5,701 856.5,706.4 864.5,705.4 872.5,704.4 880.5,706.4 888.5,705.4 896.5,708.4 904.5,709.4 912.5,704.4 920.5,702.4 928.5,703.4 936.5,704.4 944.5,704.4 952.5,706.4 960.5,708.4 968.5,706.4 976.5,705.4 984.5,705.4 992.5,712.4 1000.5,710.4 1008.5,710.4 1016.5,711.4 1024.5,709.4 1032.5,714 1040.5,715.4 1048.5,715.4 1056.5,724 1064.5,719.4 1072.5,734 1080.5,733 1088.5,729 1096.5,723.4 1104.5,726.4 1112.5,724.4 1120.5,725.4 1128.5,724.4 1136.5,727.4 1144.5,723.4 1152.5,721 1160.5,714.4 1168.5,712 1176.5,713.4 1184.5,712.4 1192.5,712 1200.5,709.4 1208.5,712.4 1216.5,708.4 1224.5,711.4 1232.5,713.4 1240.5,706 1248.5,703 1256.5,700 1264.5,694.4 1272.5,699 1280.5,700.4 1288.5,709.4 1296.5,707 1304.5,705.4 1312.5,705.4 1320.5,711 1328.5,711.4 1336.5,710.4 1344.5,711.4 1352.5,712.4 1360.5,714.4 1368.5,713.4 1376.5,712.4 1384.5,706.4 1392.5,704.4 1400.5,696.4 1408.5,696.4 1416.5,699.4 1424.5,697.4 1432.5,701 1440.5,697.4 1448.5,697.4 1456.5,692.4 1464.5,690.4 1472.5,690.4 1480.5,689.4 1488.5,688.4 1496.5,690.4 1504.5,687.4 1512.5,693 1520.5,696 1528.5,700 1536.5,708 1544.5,703.4 1552.5,710 1560.5,706.4 1568.5,711 1576.5,712.4 1584.5,708 1592.5,703.4 1600.5,712 1608.5,714.4 1616.5,716 1624.5,721 1632.5,726 1640.5,729.4 1648.5,728 1656.5,731.4 1664.5,734.4"/>
</g>
<g shape-rendering="crispEdges" fill="none" stroke="#000" stroke-width="1">
<path d="M7.5 34.5H1688.5V770.5H7.5zM7.5 526.5H1688.5M7.5 528.5H1688.5M7.5 667.5H1688.5M7.5 669.5H1688.5"/>
</g>
<g shape-rendering="crispEdges" fill="#fff"><rect x="8" y="527" width="1681" height="1"/><rect x="8" y="668" width="1681" height="1"/><rect x="1689" y="526" width="10" height="3"/><rect x="1689" y="667" width="10" height="3"/></g>
<g shape-rendering="crispEdges">
<rect x="8" y="130" width="1681" height="2" fill="#2cc82c"/>
<rect x="8" y="184" width="1681" height="2" fill="#4169e1"/>
<rect x="8" y="269" width="1681" height="2" fill="#4169e1"/>
<rect x="8" y="338" width="1681" height="2" fill="#4169e1"/>
</g>
<g shape-rendering="crispEdges" fill="#000">
<rect x="1689" y="61" width="2" height="1"/>
<rect x="1689" y="94" width="2" height="1"/>
<rect x="1689" y="127" width="2" height="1"/>
<rect x="1689" y="160" width="2" height="1"/>
<rect x="1689" y="193" width="2" height="1"/>
<rect x="1689" y="226" width="2" height="1"/>
<rect x="1689" y="259" width="2" height="1"/>
<rect x="1689" y="292" width="2" height="1"/>
<rect x="1689" y="325" width="2" height="1"/>
<rect x="1689" y="358" width="2" height="1"/>
<rect x="1689" y="391" width="2" height="1"/>
<rect x="1689" y="424" width="2" height="1"/>
<rect x="1689" y="457" width="2" height="1"/>
<rect x="1689" y="490" width="2" height="1"/>
<rect x="1689" y="523" width="2" height="1"/>
<rect x="1689" y="589" width="2" height="1"/>
<rect x="1689" y="530" width="1" height="1"/>
<rect x="1689" y="666" width="1" height="1"/>
<rect x="1689" y="671" width="1" height="1"/>
<rect x="1689" y="769" width="1" height="1"/>
<rect x="8" y="771" width="1" height="3"/>
<rect x="72" y="771" width="1" height="3"/>
<rect x="136" y="771" width="1" height="3"/>
<rect x="200" y="771" width="1" height="3"/>
<rect x="264" y="771" width="1" height="3"/>
<rect x="328" y="771" width="1" height="3"/>
<rect x="392" y="771" width="1" height="3"/>
<rect x="456" y="771" width="1" height="3"/>
<rect x="520" y="771" width="1" height="3"/>
<rect x="584" y="771" width="1" height="3"/>
<rect x="648" y="771" width="1" height="3"/>
<rect x="712" y="771" width="1" height="3"/>
<rect x="776" y="771" width="1" height="3"/>
<rect x="840" y="771" width="1" height="3"/>
<rect x="904" y="771" width="1" height="3"/>
<rect x="968" y="771" width="1" height="3"/>
<rect x="1032" y="771" width="1" height="3"/>
<rect x="1096" y="771" width="1" height="3"/>
<rect x="1160" y="771" width="1" height="3"/>
<rect x="1224" y="771" width="1" height="3"/>
<rect x="1288" y="771" width="1" height="3"/>
<rect x="1352" y="771" width="1" height="3"/>
<rect x="1416" y="771" width="1" height="3"/>
<rect x="1480" y="771" width="1" height="3"/>
<rect x="1544" y="771" width="1" height="3"/>
<rect x="1608" y="771" width="1" height="3"/>
</g>
<g>
<text transform="translate(1694.4 65) scale(1 1)" font-size="9.8" fill="#000" stroke="#000" stroke-width="0.16" textLength="31.8" lengthAdjust="spacingAndGlyphs">1745.50</text>
<text transform="translate(1694.4 98) scale(1 1)" font-size="9.8" fill="#000" stroke="#000" stroke-width="0.16" textLength="31.8" lengthAdjust="spacingAndGlyphs">1724.50</text>
<text transform="translate(1694.4 131) scale(1 1)" font-size="9.8" fill="#000" stroke="#000" stroke-width="0.16" textLength="31.8" lengthAdjust="spacingAndGlyphs">1702.90</text>
<text transform="translate(1694.4 164) scale(1 1)" font-size="9.8" fill="#000" stroke="#000" stroke-width="0.16" textLength="31.8" lengthAdjust="spacingAndGlyphs">1681.30</text>
<text transform="translate(1694.4 197) scale(1 1)" font-size="9.8" fill="#000" stroke="#000" stroke-width="0.16" textLength="31.8" lengthAdjust="spacingAndGlyphs">1659.70</text>
<text transform="translate(1694.4 230) scale(1 1)" font-size="9.8" fill="#000" stroke="#000" stroke-width="0.16" textLength="31.8" lengthAdjust="spacingAndGlyphs">1638.70</text>
<text transform="translate(1694.4 263) scale(1 1)" font-size="9.8" fill="#000" stroke="#000" stroke-width="0.16" textLength="31.8" lengthAdjust="spacingAndGlyphs">1617.10</text>
<text transform="translate(1694.4 296) scale(1 1)" font-size="9.8" fill="#000" stroke="#000" stroke-width="0.16" textLength="31.8" lengthAdjust="spacingAndGlyphs">1595.50</text>
<text transform="translate(1694.4 329) scale(1 1)" font-size="9.8" fill="#000" stroke="#000" stroke-width="0.16" textLength="31.8" lengthAdjust="spacingAndGlyphs">1573.90</text>
<text transform="translate(1694.4 362) scale(1 1)" font-size="9.8" fill="#000" stroke="#000" stroke-width="0.16" textLength="31.8" lengthAdjust="spacingAndGlyphs">1552.30</text>
<text transform="translate(1694.4 395) scale(1 1)" font-size="9.8" fill="#000" stroke="#000" stroke-width="0.16" textLength="31.8" lengthAdjust="spacingAndGlyphs">1531.30</text>
<text transform="translate(1694.4 428) scale(1 1)" font-size="9.8" fill="#000" stroke="#000" stroke-width="0.16" textLength="31.8" lengthAdjust="spacingAndGlyphs">1509.70</text>
<text transform="translate(1694.4 461) scale(1 1)" font-size="9.8" fill="#000" stroke="#000" stroke-width="0.16" textLength="31.8" lengthAdjust="spacingAndGlyphs">1488.10</text>
<text transform="translate(1694.4 494) scale(1 1)" font-size="9.8" fill="#000" stroke="#000" stroke-width="0.16" textLength="31.8" lengthAdjust="spacingAndGlyphs">1466.50</text>
<text transform="translate(1694.4 527) scale(1 1)" font-size="9.8" fill="#000" stroke="#000" stroke-width="0.16" textLength="31.8" lengthAdjust="spacingAndGlyphs">1445.50</text>
<text transform="translate(1692.1 539) scale(1 1)" font-size="9.8" fill="#000" stroke="#000" stroke-width="0.16" textLength="28" lengthAdjust="spacingAndGlyphs">32.459</text>
<text transform="translate(1692.1 593) scale(1 1)" font-size="9.8" fill="#000" stroke="#000" stroke-width="0.16" textLength="17.4" lengthAdjust="spacingAndGlyphs">0.00</text>
<text transform="translate(1692 664) scale(1 1)" font-size="9.8" fill="#000" stroke="#000" stroke-width="0.16" textLength="26.2" lengthAdjust="spacingAndGlyphs">-41.95</text>
<text transform="translate(1692.4 680) scale(1 1)" font-size="9.8" fill="#000" stroke="#000" stroke-width="0.16" textLength="14.6" lengthAdjust="spacingAndGlyphs">100</text>
<text transform="translate(1692 704) scale(1 1)" font-size="9.8" fill="#000" stroke="#000" stroke-width="0.16" textLength="9.6" lengthAdjust="spacingAndGlyphs">70</text>
<text transform="translate(1692 744) scale(1 1)" font-size="9.8" fill="#000" stroke="#000" stroke-width="0.16" textLength="9.6" lengthAdjust="spacingAndGlyphs">30</text>
<text transform="translate(1692.3 767) scale(1 1)" font-size="9.8" fill="#000" stroke="#000" stroke-width="0.16" textLength="4.8" lengthAdjust="spacingAndGlyphs">0</text>
<text transform="translate(7 783) scale(1 1)" font-size="9.8" fill="#000" stroke="#000" stroke-width="0.16" textLength="52" lengthAdjust="spacingAndGlyphs">28 Feb 2020</text>
<text transform="translate(71 783) scale(1 1)" font-size="9.8" fill="#000" stroke="#000" stroke-width="0.16" textLength="50" lengthAdjust="spacingAndGlyphs">2 Mar 20:00</text>
<text transform="translate(135 783) scale(1 1)" font-size="9.8" fill="#000" stroke="#000" stroke-width="0.16" textLength="50" lengthAdjust="spacingAndGlyphs">4 Mar 04:00</text>
<text transform="translate(199 783) scale(1 1)" font-size="9.8" fill="#000" stroke="#000" stroke-width="0.16" textLength="50" lengthAdjust="spacingAndGlyphs">5 Mar 12:00</text>
<text transform="translate(263 783) scale(1 1)" font-size="9.8" fill="#000" stroke="#000" stroke-width="0.16" textLength="50" lengthAdjust="spacingAndGlyphs">8 Mar 23:00</text>
<text transform="translate(327 783) scale(1 1)" font-size="9.8" fill="#000" stroke="#000" stroke-width="0.16" textLength="54.8" lengthAdjust="spacingAndGlyphs">10 Mar 04:00</text>
<text transform="translate(391 783) scale(1 1)" font-size="9.8" fill="#000" stroke="#000" stroke-width="0.16" textLength="54.8" lengthAdjust="spacingAndGlyphs">11 Mar 12:00</text>
<text transform="translate(455 783) scale(1 1)" font-size="9.8" fill="#000" stroke="#000" stroke-width="0.16" textLength="54.8" lengthAdjust="spacingAndGlyphs">12 Mar 20:00</text>
<text transform="translate(519 783) scale(1 1)" font-size="9.8" fill="#000" stroke="#000" stroke-width="0.16" textLength="54.8" lengthAdjust="spacingAndGlyphs">16 Mar 04:00</text>
<text transform="translate(583 783) scale(1 1)" font-size="9.8" fill="#000" stroke="#000" stroke-width="0.16" textLength="54.8" lengthAdjust="spacingAndGlyphs">17 Mar 12:00</text>
<text transform="translate(647 783) scale(1 1)" font-size="9.8" fill="#000" stroke="#000" stroke-width="0.16" textLength="54.8" lengthAdjust="spacingAndGlyphs">18 Mar 20:00</text>
<text transform="translate(711 783) scale(1 1)" font-size="9.8" fill="#000" stroke="#000" stroke-width="0.16" textLength="54.8" lengthAdjust="spacingAndGlyphs">20 Mar 04:00</text>
<text transform="translate(775 783) scale(1 1)" font-size="9.8" fill="#000" stroke="#000" stroke-width="0.16" textLength="54.8" lengthAdjust="spacingAndGlyphs">23 Mar 12:00</text>
<text transform="translate(839 783) scale(1 1)" font-size="9.8" fill="#000" stroke="#000" stroke-width="0.16" textLength="54.8" lengthAdjust="spacingAndGlyphs">24 Mar 20:00</text>
<text transform="translate(903 783) scale(1 1)" font-size="9.8" fill="#000" stroke="#000" stroke-width="0.16" textLength="54.8" lengthAdjust="spacingAndGlyphs">26 Mar 04:00</text>
<text transform="translate(967 783) scale(1 1)" font-size="9.8" fill="#000" stroke="#000" stroke-width="0.16" textLength="54.8" lengthAdjust="spacingAndGlyphs">27 Mar 12:00</text>
<text transform="translate(1031 783) scale(1 1)" font-size="9.8" fill="#000" stroke="#000" stroke-width="0.16" textLength="54.8" lengthAdjust="spacingAndGlyphs">30 Mar 20:00</text>
<text transform="translate(1095 783) scale(1 1)" font-size="9.8" fill="#000" stroke="#000" stroke-width="0.16" textLength="48.8" lengthAdjust="spacingAndGlyphs">1 Apr 04:00</text>
<text transform="translate(1159 783) scale(1 1)" font-size="9.8" fill="#000" stroke="#000" stroke-width="0.16" textLength="48.8" lengthAdjust="spacingAndGlyphs">2 Apr 12:00</text>
<text transform="translate(1223 783) scale(1 1)" font-size="9.8" fill="#000" stroke="#000" stroke-width="0.16" textLength="48.8" lengthAdjust="spacingAndGlyphs">5 Apr 23:00</text>
<text transform="translate(1287 783) scale(1 1)" font-size="9.8" fill="#000" stroke="#000" stroke-width="0.16" textLength="48.8" lengthAdjust="spacingAndGlyphs">7 Apr 04:00</text>
<text transform="translate(1351 783) scale(1 1)" font-size="9.8" fill="#000" stroke="#000" stroke-width="0.16" textLength="48.8" lengthAdjust="spacingAndGlyphs">8 Apr 12:00</text>
<text transform="translate(1415 783) scale(1 1)" font-size="9.8" fill="#000" stroke="#000" stroke-width="0.16" textLength="48.8" lengthAdjust="spacingAndGlyphs">9 Apr 20:00</text>
<text transform="translate(1479 783) scale(1 1)" font-size="9.8" fill="#000" stroke="#000" stroke-width="0.16" textLength="53.8" lengthAdjust="spacingAndGlyphs">14 Apr 00:00</text>
<text transform="translate(1543 783) scale(1 1)" font-size="9.8" fill="#000" stroke="#000" stroke-width="0.16" textLength="53.8" lengthAdjust="spacingAndGlyphs">15 Apr 08:00</text>
<text transform="translate(1607 783) scale(1 1)" font-size="9.8" fill="#000" stroke="#000" stroke-width="0.16" textLength="53.8" lengthAdjust="spacingAndGlyphs">16 Apr 16:00</text>
</g>
<g shape-rendering="crispEdges">
<rect x="1690" y="125" width="38" height="11" fill="#2cc82c"/>
<rect x="1690" y="163" width="38" height="11" fill="#000"/>
<rect x="1690" y="179" width="38" height="11" fill="#4169e1"/>
<rect x="1690" y="264" width="38" height="11" fill="#4169e1"/>
<rect x="1690" y="333" width="38" height="11" fill="#4169e1"/>
</g>
<text transform="translate(1694.5 134.4) scale(1 1)" font-size="9.8" fill="#fff" stroke="#fff" stroke-width="0.16" textLength="32.39" lengthAdjust="spacingAndGlyphs">1700.00</text>
<text transform="translate(1694.5 172.4) scale(1 1)" font-size="9.8" fill="#fff" stroke="#fff" stroke-width="0.16" textLength="32.39" lengthAdjust="spacingAndGlyphs">1675.88</text>
<text transform="translate(1694.5 188.4) scale(1 1)" font-size="9.8" fill="#fff" stroke="#fff" stroke-width="0.16" textLength="32.39" lengthAdjust="spacingAndGlyphs">1665.00</text>
<text transform="translate(1694.5 273.4) scale(1 1)" font-size="9.8" fill="#fff" stroke="#fff" stroke-width="0.16" textLength="32.39" lengthAdjust="spacingAndGlyphs">1610.00</text>
<text transform="translate(1694.5 342.4) scale(1 1)" font-size="9.8" fill="#fff" stroke="#fff" stroke-width="0.16" textLength="32.39" lengthAdjust="spacingAndGlyphs">1565.00</text>
<path d="M11.2 40.8h7l-3.5 4z" fill="#000"/>
<text transform="translate(22.6 46) scale(1 1)" font-size="9.8" fill="#000" stroke="#000" stroke-width="0.16" textLength="57.6" lengthAdjust="spacingAndGlyphs">XAUUSD-,H4</text>
<text transform="translate(86.4 46) scale(1 1)" font-size="9.8" fill="#000" stroke="#000" stroke-width="0.16" textLength="31.8" lengthAdjust="spacingAndGlyphs">1674.77</text>
<text transform="translate(122.4 46) scale(1 1)" font-size="9.8" fill="#000" stroke="#000" stroke-width="0.16" textLength="32.2" lengthAdjust="spacingAndGlyphs">1677.42</text>
<text transform="translate(158.6 46) scale(1 1)" font-size="9.8" fill="#000" stroke="#000" stroke-width="0.16" textLength="32" lengthAdjust="spacingAndGlyphs">1674.10</text>
<text transform="translate(194.6 46) scale(1 1)" font-size="9.8" fill="#000" stroke="#000" stroke-width="0.16" textLength="32.4" lengthAdjust="spacingAndGlyphs">1675.88</text>
<text transform="translate(12.4 541) scale(1 1)" font-size="9.8" fill="#000" stroke="#000" stroke-width="0.16" textLength="120.4" lengthAdjust="spacingAndGlyphs">MACD(12,26,9) -2.228 5.926</text>
<text transform="translate(12.4 682) scale(1 1)" font-size="9.8" fill="#000" stroke="#000" stroke-width="0.16" textLength="67.4" lengthAdjust="spacingAndGlyphs">RSI(14) 35.8518</text>
<text x="1244.6" y="449.2" font-size="33.4" fill="#ff2010"><tspan textLength="162" lengthAdjust="spacingAndGlyphs">多空转折点</tspan><tspan x="1408" y="448.6" font-size="32" font-family="&quot;Noto Sans CJK SC&quot;, &quot;Liberation Sans&quot;, sans-serif" textLength="74.4" lengthAdjust="spacingAndGlyphs">1700</tspan></text>
</svg>
</body></html>
